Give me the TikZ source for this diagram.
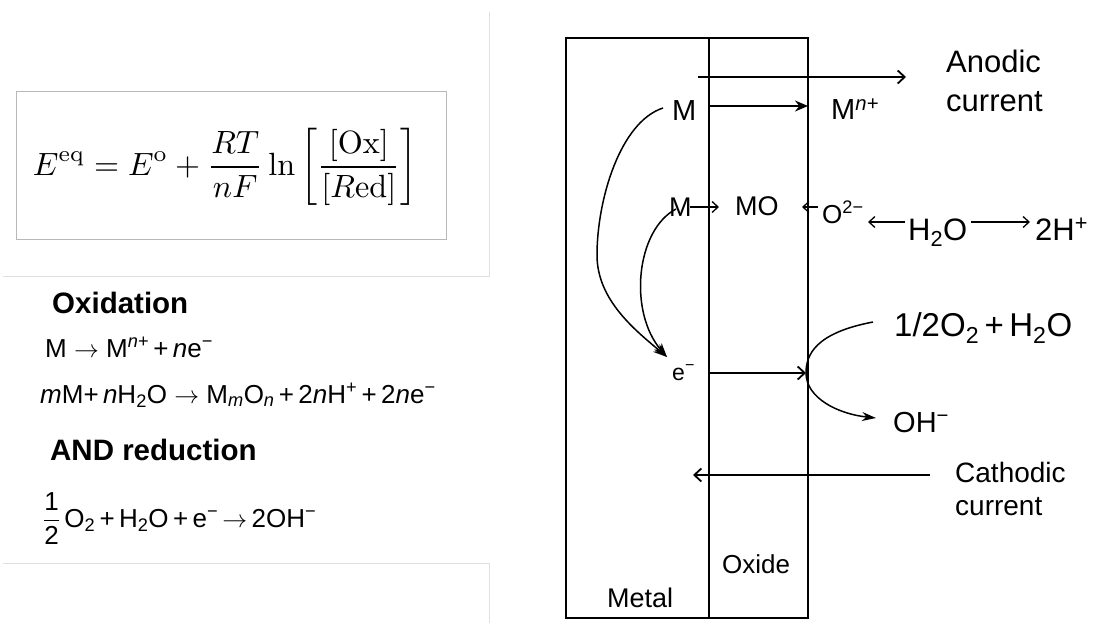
\documentclass[tikz,border=0pt]{standalone}
\usepackage{amsmath}
\usepackage{fontspec}
\setsansfont{Liberation Sans}
\usepackage{graphicx}
\usetikzlibrary{arrows.meta}
\tikzset{
  txt/.style={font=\sffamily\fontsize{#1}{#1}\selectfont, inner sep=0pt, anchor=base west},
  frame/.style={draw=black, line width=2.6pt},
  faint/.style={draw=black!12, line width=0.8pt},
  eqbox/.style={draw=black!28, line width=1pt},
  openarr/.style={line width=1.8pt, -{Straight Barb[length=7pt,width=13pt,line width=1.8pt]}},
  fillarr/.style={line width=1.8pt, -{Stealth[length=13pt,width=11pt]}},
  thinarr/.style={line width=1.3pt, -{Straight Barb[length=6pt,width=11pt,line width=1.3pt]}},
}
\begin{document}
\begin{tikzpicture}[x=1pt,y=-1pt]
\useasboundingbox (0,0) rectangle (1094,623);
% faint panel edges
\draw[faint] (3,276) -- (489,276) -- (489,12);
\draw[faint] (3,563) -- (489,563) -- (489,623);
% equation
\draw[eqbox] (16,92) rectangle (446,239);
\node[inner sep=0pt] (eq) at (225,167) {\resizebox{384pt}{!}{$\displaystyle E^{\mathrm{eq}}=E^{\mathrm{o}}+\frac{RT}{nF}\ln\left[\frac{[\mathrm{Ox}]}{[R\mathrm{ed}]}\right]$}};
% left text
\node[txt=29.5] (ox) at (52,313) {\bfseries Oxidation};
\node[txt=26] (r1) at (45,357) {M $\rightarrow$ M\textsuperscript{\itshape n+}\,+\,{\itshape n}e\textsuperscript{−}};
\node[txt=26] (r2) at (40,403) {{\itshape m}M+\,{\itshape n}H\textsubscript{2}O $\rightarrow$ M\textsubscript{\itshape m}O\textsubscript{\itshape n}\,+\,2{\itshape n}H\textsuperscript{+}\,+\,2{\itshape n}e\textsuperscript{−}};
\node[txt=29.5] (andr) at (50,460) {\bfseries AND reduction};
\node[txt=26] (r3) at (43,527) {$\dfrac{\text{\sffamily 1}}{\text{\sffamily 2}}$\,O\textsubscript{2}\,+\,H\textsubscript{2}O\,+\,e\textsuperscript{−}\,$\rightarrow$\,2OH\textsuperscript{−}};
% diagram frame
\draw[frame] (566,38) rectangle (808,618);
\draw[frame] (709,38) -- (709,618);
% labels
\node[txt=29] (M1) at (672,121) {M};
\node[txt=29] (Mn) at (831,120) {M\textsuperscript{\itshape n+}};
\node[txt=31, align=left, font=\sffamily\fontsize{31}{39}\selectfont] (anodic) at (946,112) {Anodic\\current};
\node[txt=27] (M2) at (669,216) {M};
\node[txt=27] (MO) at (735,215) {MO};
\node[txt=26] (O2) at (822,223) {O\textsuperscript{2−}};
\node[txt=31] (H2O) at (908,240) {H\textsubscript{2}O};
\node[txt=31] (H2) at (1035,240) {2H\textsuperscript{+}};
\node[txt=23] (e) at (672,380) {e\textsuperscript{−}};
\node[txt=33] (O2H) at (894,336) {1/2O\textsubscript{2}\,+\,H\textsubscript{2}O};
\node[txt=29] (OH) at (893,432) {OH\textsuperscript{−}};
\node[txt=28, align=left, font=\sffamily\fontsize{28}{33}\selectfont] (cath) at (955,515) {Cathodic\\current};
\node[txt=26] (oxide) at (722,573) {Oxide};
\node[txt=27] (metal) at (607,607) {Metal};
% coordinates
\coordinate (aS) at (698,77);
\coordinate (aE) at (906,77);
\coordinate (m1S) at (709,106);
\coordinate (m1E) at (808,106);
\coordinate (m2E) at (719,207);
\coordinate (o2E) at (802,207);
\coordinate (eS) at (709,373);
\coordinate (eE) at (806,373);
\coordinate (cS) at (930,475);
\coordinate (cE) at (693,475);
\coordinate (c1) at (873,322);
\coordinate (c2) at (876,418);
% connectors
\draw[openarr] (aS) -- (aE);
\draw[fillarr] (m1S) -- (m1E);
\draw[thinarr] (M2.east |- m2E) ++(-2,0) -- (m2E);
\draw[thinarr] (O2.west |- o2E) ++(-4,0) -- (o2E);
\draw[thinarr] (H2O.west |- 0,222) ++(-3,0) -- (868,222);
\draw[thinarr] (H2O.east |- 0,222) ++(4,0) -- (1030,222);
\draw[line width=1.5pt, -{Stealth[length=14pt,width=10pt]}] (663,108) .. controls (620,122) and (597,200) .. (597,255) .. controls (597,300) and (635,330) .. (667,357);
\draw[line width=1.5pt, -{Stealth[length=14pt,width=10pt]}] (676,209) .. controls (636,230) and (628,312) .. (667,357);
\draw[openarr] (eS) -- (eE);
\draw[line width=1.5pt, -{Stealth[length=14pt,width=9pt]}] (c1) .. controls (815,333) and (806,355) .. (806,373) .. controls (806,398) and (838,414) .. (c2);
\draw[openarr] (cS) -- (cE);
\end{tikzpicture}
\end{document}
